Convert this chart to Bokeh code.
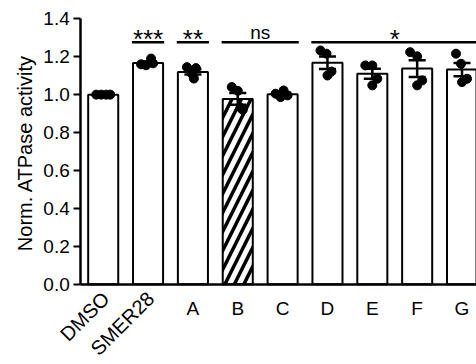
import numpy as np
from bokeh.plotting import figure
from bokeh.models import FixedTicker, PrintfTickFormatter
from bokeh.core.properties import value
from bokeh.embed import file_html
from bokeh.resources import INLINE

# ---- data ----
categories = ["DMSO", "SMER28", "A", "B", "C", "D", "E", "F", "G"]
vals_DMSO = [1.000, 1.000, 1.000, 1.000]
vals_SMER28 = [1.160, 1.155, 1.190, 1.165]
vals_A = [1.145, 1.140, 1.110, 1.085]
vals_B = [1.040, 1.020, 0.930, 0.920]
vals_C = [1.005, 0.987, 1.022, 0.996]
vals_D = [1.233, 1.216, 1.122, 1.101]
vals_E = [1.154, 1.154, 1.084, 1.049]
vals_F = [1.224, 1.202, 1.075, 1.049]
vals_G = [1.216, 1.163, 1.084, 1.066]
replicates = [vals_DMSO, vals_SMER28, vals_A, vals_B, vals_C,
              vals_D, vals_E, vals_F, vals_G]
hatched = ["B"]
rotated_labels = ["DMSO", "SMER28"]
# significance brackets: (first category, last category, label)
sig_groups = [("SMER28", "SMER28", "***"), ("A", "A", "**"),
              ("B", "C", "ns"), ("D", "G", "*")]
y_ticks = [0.0, 0.2, 0.4, 0.6, 0.8, 1.0, 1.2, 1.4]
y_label = "Norm. ATPase activity"

# ---- style ----
FONT = "Liberation Sans"
PX_PER_CAT = 44.85
jitter_px = [[-7, -2, 3, 7], [-7, -2, 3, 5], [-6, 3, -1, 1], [-6, 0, 3, 5],
             [-7, -2, 1, 5], [-7, -1, 4, 0], [-7, 0, 5, 0], [-7, 0, 5, 0],
             [-6, -1, 5, 0]]
BAR_W = 0.67
CAP = 0.19
BRACKET_Y = 1.277
X0 = -0.5            # where the y axis crosses
XS, XE = -2.290, 8.323
YS, YE = -0.4237, 1.4966

xs = np.arange(len(categories))
means = [float(np.mean(v)) for v in replicates]
sems = [float(np.std(v, ddof=1) / np.sqrt(len(v))) for v in replicates]

p = figure(width=476, height=364, x_range=(XS, XE), y_range=(YS, YE),
           output_backend="svg", toolbar_location=None,
           min_border_left=0, min_border_right=0, min_border_top=0,
           min_border_bottom=0)
p.outline_line_color = None
p.xgrid.visible = False
p.ygrid.visible = False
p.background_fill_color = "white"

plain_x = [x for x, c in zip(xs, categories) if c not in hatched]
plain_m = [m for m, c in zip(means, categories) if c not in hatched]
hat_x = [x for x, c in zip(xs, categories) if c in hatched]
hat_m = [m for m, c in zip(means, categories) if c in hatched]

p.vbar(x=plain_x, top=plain_m, bottom=0, width=BAR_W, fill_color="white",
       line_color="black", line_width=2)
p.vbar(x=hat_x, top=hat_m, bottom=0, width=BAR_W, fill_color="white",
       line_color="black", line_width=2, hatch_pattern="/",
       hatch_color="black", hatch_weight=3.5, hatch_scale=19)

# points
px_, py_ = [], []
for i, v in enumerate(replicates):
    for j, val in enumerate(v):
        px_.append(i + jitter_px[i][j] / PX_PER_CAT)
        py_.append(val)
p.scatter(px_, py_, size=9, color="black")

# error bars
lo = [m - s for m, s in zip(means, sems)]
hi = [m + s for m, s in zip(means, sems)]
p.segment(x0=xs, x1=xs, y0=lo, y1=hi, line_color="black", line_width=2.5)
p.segment(x0=xs - CAP, x1=xs + CAP, y0=hi, y1=hi, line_color="black", line_width=2.5)
p.segment(x0=xs - CAP, x1=xs + CAP, y0=lo, y1=lo, line_color="black", line_width=2.5)

# significance brackets
for a, b, lab in sig_groups:
    i0, i1 = categories.index(a), categories.index(b)
    p.segment(x0=[i0 - 0.36], x1=[i1 + 0.36], y0=[BRACKET_Y], y1=[BRACKET_Y],
              line_color="black", line_width=2.5)
    is_star = lab.startswith("*")
    ty = BRACKET_Y + 0.014 if is_star else BRACKET_Y + 0.052
    p.text(x=[(i0 + i1) / 2], y=[ty], text=[lab], text_font=value(FONT),
           text_font_size="26px" if is_star else "19px", text_align="center",
           text_baseline="alphabetic", text_color="black")

# x axis (line only, crossing at y=0)
xax = p.xaxis[0]
xax.fixed_location = 0
xax.bounds = (X0, XE)
xax.ticker = FixedTicker(ticks=[])
xax.major_label_text_font_size = "0px"
xax.major_tick_line_color = None
xax.minor_tick_line_color = None
xax.axis_line_width = 2.5
xax.axis_line_color = "black"

# y axis at x = X0
yax = p.yaxis[0]
yax.fixed_location = X0
yax.bounds = (0, 1.4)
yax.ticker = FixedTicker(ticks=y_ticks)
yax.formatter = PrintfTickFormatter(format="%.1f")
yax.major_label_text_font = FONT
yax.major_label_text_font_size = "19px"
yax.major_label_text_color = "black"
yax.major_label_standoff = 4
yax.major_tick_out = 7
yax.major_tick_in = 0
yax.major_tick_line_width = 2
yax.major_tick_line_color = "black"
yax.minor_tick_line_color = None
yax.axis_line_width = 2.5
yax.axis_line_color = "black"

# y axis title
p.text(x=[XS + 24 / PX_PER_CAT], y=[0.692], text=[y_label], angle=np.pi / 2,
       text_align="center", text_baseline="middle", text_font=value(FONT),
       text_font_size="20px", text_color="black")

# category labels
rot_x = [i + 0.06 for i, c in enumerate(categories) if c in rotated_labels]
rot_t = [c for c in categories if c in rotated_labels]
flat_x = [i for i, c in enumerate(categories) if c not in rotated_labels]
flat_t = [c for c in categories if c not in rotated_labels]
p.text(x=rot_x, y=[-0.058] * len(rot_x), text=rot_t, angle=45,
       angle_units="deg", text_align="right", text_baseline="middle",
       text_font=value(FONT), text_font_size="20px", text_color="black")
p.text(x=flat_x, y=[-0.127] * len(flat_x), text=flat_t, text_align="center",
       text_baseline="alphabetic", text_font=value(FONT),
       text_font_size="19px", text_color="black")

open("out.html", "w").write(file_html(p, INLINE))
